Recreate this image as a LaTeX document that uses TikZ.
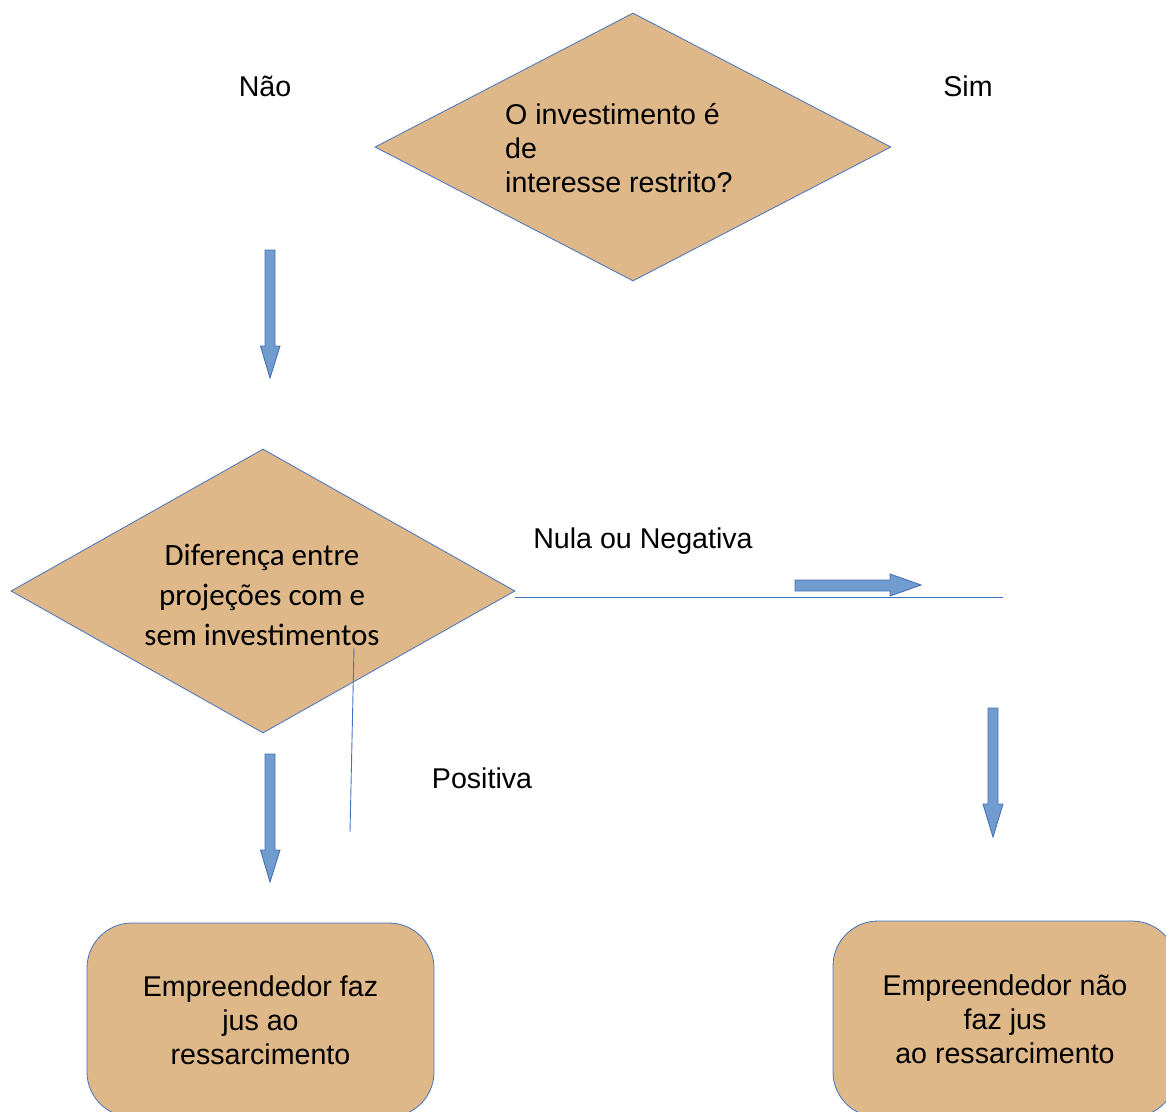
\documentclass[tikz,border=0pt]{standalone}
\usepackage{fontspec}
\setmainfont{Liberation Sans}
\newfontfamily\calib{Carlito}
\usetikzlibrary{shapes.geometric}
\definecolor{tan}{RGB}{222,184,136}
\definecolor{edgeblue}{RGB}{68,114,196}
\definecolor{arrowfill}{RGB}{112,156,208}
\definecolor{arrowedge}{RGB}{70,114,180}
\tikzset{
  decision/.style={diamond, draw=edgeblue, fill=tan, line width=0.8pt, inner sep=0pt, aspect=1.9},
  endbox/.style={rectangle, rounded corners=45pt, draw=edgeblue, fill=tan, line width=0.8pt, inner sep=0pt, font=\fontsize{28.6}{34}\selectfont, align=center},
  arialtxt/.style={font=\fontsize{28.6}{34}\selectfont, inner sep=0pt},
  calibtxt/.style={font=\calib\fontsize{31}{40}\selectfont, inner sep=0pt},
  thinline/.style={draw=edgeblue, line width=0.9pt},
  blockarrow/.style={fill=arrowfill, draw=arrowedge, line width=0.9pt, line join=miter},
}
\begin{document}
\begin{tikzpicture}[x=1pt,y=-1pt]
\useasboundingbox (0,0) rectangle (1166,1111);
\clip (0,0) rectangle (1166,1111);

% decision 1
\node[decision, minimum width=516pt, minimum height=268pt] (d1) at (633,147) {};
\node[arialtxt, align=left, anchor=west] (t1) at (505,148) {O investimento é\\de\\interesse restrito?};

% decision 2
\node[decision, minimum width=504pt, minimum height=284pt] (d2) at (263,591) {};
\node[calibtxt, align=center] (t2) at (262,595) {Diferença entre\\projeções com e\\sem investimentos};

% labels
\node[arialtxt] (nao) at (265,86) {Não};
\node[arialtxt] (sim) at (968,86) {Sim};
\node[arialtxt] (nula) at (643,541) {Nula ou Negativa};
\node[arialtxt] (pos) at (482,778) {Positiva};

% end boxes
\node[endbox, minimum width=347pt, minimum height=194pt] (b1) at (260.5,1020)
  {Empreendedor faz\\jus ao\\ressarcimento};
\node[endbox, minimum width=344pt, minimum height=196pt] (b2) at (1005,1019)
  {Empreendedor não\\faz jus\\ao ressarcimento};

% thin connectors
\coordinate (hstart) at (515,597);
\coordinate (hend) at (1003,597);
\draw[thinline] (hstart) -- (hend);
\coordinate (vtop) at (354,648);
\coordinate (vbot) at (350,832);
\draw[thinline] (vtop) -- (vbot);

% block arrows
\draw[blockarrow] (265,250) -- (275,250) -- (275,346) -- (280,346) -- (270,378) -- (260.5,346) -- (265,346) -- cycle;
\draw[blockarrow] (265,754) -- (275,754) -- (275,850) -- (280,850) -- (270,882) -- (260.5,850) -- (265,850) -- cycle;
\draw[blockarrow] (988,708) -- (998,708) -- (998,804) -- (1003,804) -- (993,837) -- (983,804) -- (988,804) -- cycle;
\draw[blockarrow] (795,580) -- (890,580) -- (890,574) -- (921,585) -- (890,596) -- (890,591) -- (795,591) -- cycle;
\end{tikzpicture}
\end{document}
